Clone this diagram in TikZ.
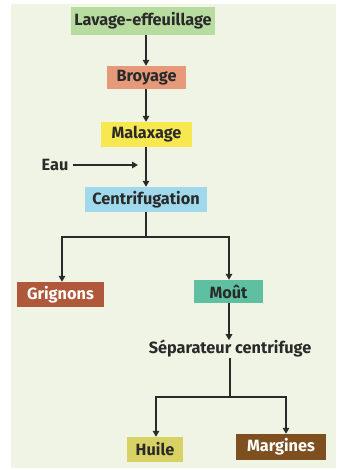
\documentclass[tikz,border=0pt]{standalone}
\usepackage{fontspec}
\setmainfont{Fira Sans}
\usetikzlibrary{arrows.meta}
\definecolor{bg}{HTML}{F0F4E4}
\definecolor{cLav}{HTML}{B8DCA0}
\definecolor{cBro}{HTML}{E69A7A}
\definecolor{cMal}{HTML}{F8E850}
\definecolor{cCen}{HTML}{A0D8EC}
\definecolor{cGri}{HTML}{B0583A}
\definecolor{cMou}{HTML}{5EC0A0}
\definecolor{cHui}{HTML}{D8D264}
\definecolor{cMar}{HTML}{7E5020}
\definecolor{ink}{HTML}{2A2A2A}
\tikzset{
  box/.style={inner sep=0pt, align=center, font=\fontsize{16.3}{18}\selectfont\bfseries, text=ink},
  conn/.style={draw=ink, line width=1.5pt, -{Triangle[length=6pt,width=6.5pt]}},
  plain/.style={draw=ink, line width=1.5pt}
}
\begin{document}
\begin{tikzpicture}[x=1pt,y=-1pt]
\useasboundingbox (0,0) rectangle (337,470);
\fill[bg] (11,4) rectangle (336,468);
\node[box, fill=cLav, minimum width=144pt, minimum height=28pt] (lav) at (143,21) {Lavage-effeuillage};
\node[box, fill=cBro, minimum width=79pt, minimum height=23pt] (bro) at (146.5,77.5) {Broyage};
\node[box, fill=cMal, minimum width=91pt, minimum height=25pt] (mal) at (146.5,134.5) {Malaxage};
\node[box, fill=cCen, minimum width=122pt, minimum height=25pt] (cen) at (146,199.5) {Centrifugation};
\node[box, fill=cGri, text=white, minimum width=87pt, minimum height=25pt] (gri) at (60.5,294.5) {Grignons};
\node[box, fill=cMou, minimum width=69pt, minimum height=23pt] (mou) at (228.5,291.5) {Moût};
\node[box] (sep) at (230,349) {Séparateur centrifuge};
\node[box, fill=cHui, minimum width=56pt, minimum height=25pt] (hui) at (155,449.5) {Huile};
\node[box, fill=cMar, text=white, minimum width=90pt, minimum height=26pt] (mar) at (281,447) {Margines};
\node[box] (eau) at (55,165) {Eau};
\coordinate (eauend) at (138,165);
\coordinate (j1) at (146,237);
\coordinate (j2) at (230,397);
\draw[conn] (lav.south -| 146,0) -- (bro.north -| 146,0);
\draw[conn] (bro.south -| 146,0) -- (mal.north -| 146,0);
\draw[conn] (mal.south -| 146,0) -- (cen.north -| 146,0);
\draw[conn] (eau.east) ++(4,0) -- (eauend);
\draw[plain] (cen.south -| 146,0) -- (j1);
\draw[conn] (j1) -| (gri.north -| 62,0);
\draw[conn] (j1) -| (mou.north -| 229,0);
\draw[conn] (mou.south -| 229,0) -- (sep.north -| 229,0);
\draw[plain] (sep.south -| 230,0) -- (j2);
\draw[conn] (j2) -| (hui.north -| 156,0);
\draw[conn] (j2) -| (mar.north -| 286,0);
\end{tikzpicture}
\end{document}
